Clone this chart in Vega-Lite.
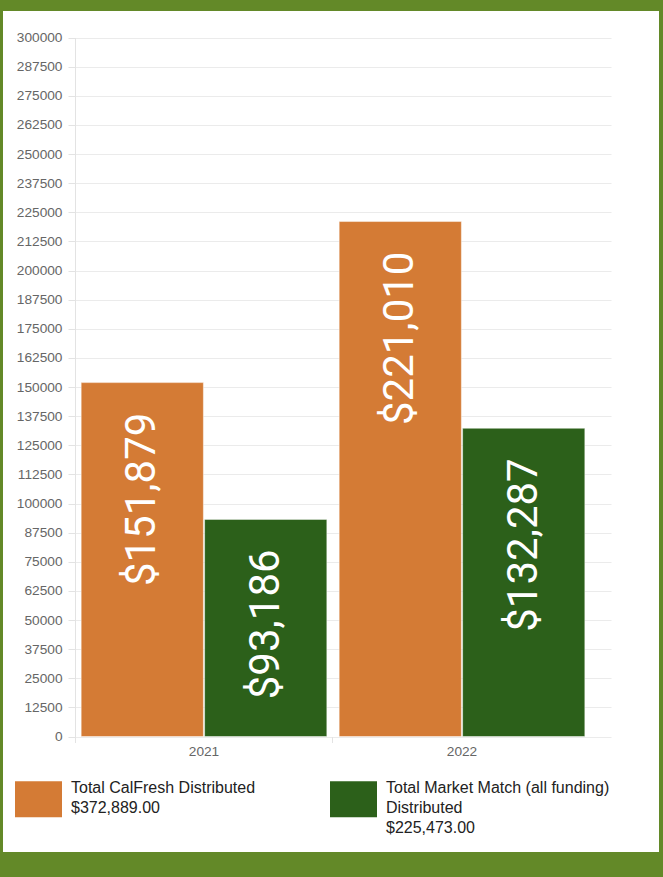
{
  "$schema": "https://vega.github.io/schema/vega-lite/v6.json",
  "width": 656,
  "height": 841,
  "autosize": {"type": "none"},
  "padding": {"left": 3, "top": 11, "right": 4, "bottom": 25},
  "background": "#638928",
  "config": {
    "view": {"fill": "white", "stroke": null},
    "style": {"guide-label": {"lineHeight": 20}}
  },
  "data": {
    "values": [
      {"year": "2021", "series": "Total CalFresh Distributed", "amount": 151879},
      {"year": "2021", "series": "Total Market Match (all funding) Distributed", "amount": 93186},
      {"year": "2022", "series": "Total CalFresh Distributed", "amount": 221010},
      {"year": "2022", "series": "Total Market Match (all funding) Distributed", "amount": 132287}
    ]
  },
  "encoding": {
    "x": {
      "field": "year",
      "type": "nominal",
      "scale": {"range": [72, 608], "paddingInner": 0, "paddingOuter": 0.03876, "align": 0},
      "axis": {
        "title": null,
        "offset": -115.5,
        "bandPosition": 0,
        "domain": false,
        "grid": false,
        "tickColor": "#e3e3e3",
        "tickSize": 6,
        "labelPadding": 2,
        "labelAngle": 0,
        "labelFont": "Liberation Sans",
        "labelFontSize": 13.7,
        "labelColor": "#666666"
      }
    },
    "y": {
      "field": "amount",
      "type": "quantitative",
      "scale": {"domain": [0, 300000], "range": [725.5, 26.5], "nice": false},
      "axis": {
        "title": null,
        "offset": -72,
        "values": [0, 12500, 25000, 37500, 50000, 62500, 75000, 87500, 100000, 112500, 125000, 137500, 150000, 162500, 175000, 187500, 200000, 212500, 225000, 237500, 250000, 262500, 275000, 287500, 300000],
        "format": "d",
        "grid": true,
        "gridColor": "#ebebeb",
        "domainColor": "#e3e3e3",
        "tickColor": "#e3e3e3",
        "tickSize": 7,
        "labelPadding": 6,
        "labelOverlap": false,
        "labelFont": "Liberation Sans",
        "labelFontSize": 13.7,
        "labelColor": "#666666"
      }
    }
  },
  "layer": [
    {
      "data": {"values": [{"year": "2022"}]},
      "mark": {"type": "rule", "color": "#ebebeb", "strokeWidth": 1},
      "encoding": {
        "x": {"field": "year", "type": "nominal", "bandPosition": 0},
        "y": {"datum": 300000},
        "y2": {"datum": 0}
      }
    },
    {
      "mark": {"type": "bar", "stroke": "#ffffff", "strokeOpacity": 0.45, "strokeWidth": 1},
      "encoding": {
        "xOffset": {"field": "series", "type": "nominal", "scale": {"paddingInner": 0.01, "paddingOuter": 0.05}},
        "color": {
          "field": "series",
          "type": "nominal",
          "scale": {
            "domain": ["Total CalFresh Distributed", "Total Market Match (all funding) Distributed"],
            "range": ["#d47b35", "#2c601a"]
          },
          "legend": {
            "title": null,
            "orient": "none",
            "legendX": 12,
            "legendY": 753.5,
            "direction": "horizontal",
            "columns": 2,
            "columnPadding": 74,
            "padding": 0,
            "symbolType": "M-1,-0.298L1,-0.298L1,1.234L-1,1.234Z",
            "symbolSize": 2209,
            "symbolStrokeWidth": 0,
            "symbolOpacity": 1,
            "labelFont": "Liberation Sans",
            "labelFontSize": 16,
            "labelColor": "#222222",
            "labelLimit": 0,
            "labelOffset": 9,
            "labelBaseline": "middle",
            "labelExpr": "datum.label == 'Total CalFresh Distributed' ? ['Total CalFresh Distributed', '$372,889.00', ''] : ['Total Market Match (all funding)', 'Distributed', '$225,473.00']"
          }
        }
      }
    },
    {
      "mark": {"type": "text", "angle": 270, "align": "right", "baseline": "middle", "dx": -30, "font": "Roboto", "fontSize": 42, "color": "#ffffff"},
      "encoding": {
        "xOffset": {"field": "series", "type": "nominal"},
        "text": {"field": "amount", "type": "quantitative", "format": "$,.0f"}
      }
    }
  ]
}
